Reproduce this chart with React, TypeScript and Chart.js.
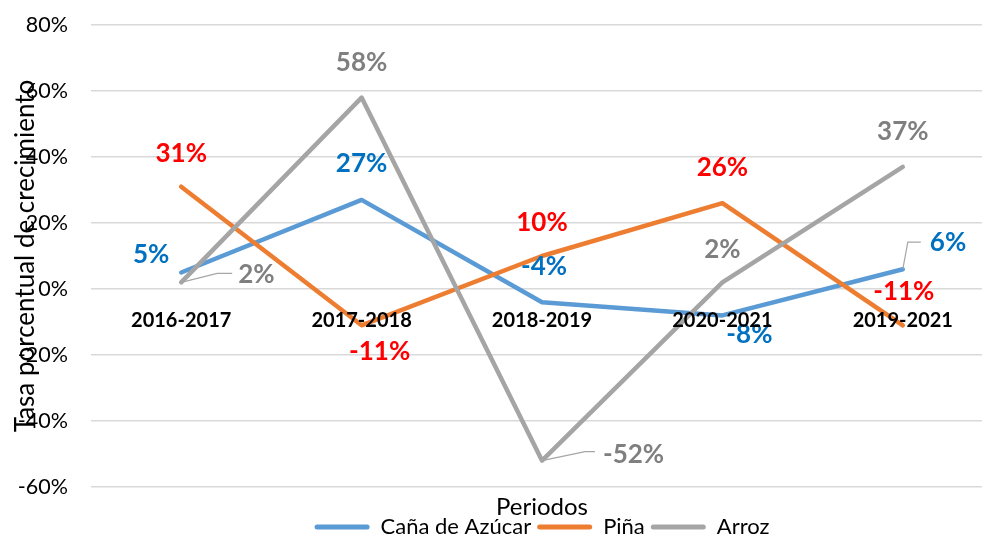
import React, { useEffect, useRef } from "react";
import { Chart, registerables } from "chart.js";

Chart.register(...registerables);

const categories = ["2016-2017", "2017-2018", "2018-2019", "2020-2021", "2019-2021"];
const canaValues = [5, 27, -4, -8, 6];
const pinaValues = [31, -11, 10, 26, -11];
const arrozValues = [2, 58, -52, 2, 37];
const yTicks = [-60, -40, -20, 0, 20, 40, 60, 80];

const FONT = "Lato, 'Noto Sans', sans-serif";

type LabelPos = { dx: number; dy: number; align?: CanvasTextAlign; leader?: [number, number, number, number] };

const labelStyles: Record<string, { color: string; pos: LabelPos[] }> = {
  "Caña de Azúcar": {
    color: "#0070C0",
    pos: [
      { dx: -30, dy: -18 },
      { dx: 0, dy: -36 },
      { dx: 2, dy: -36 },
      { dx: 27, dy: 19 },
      { dx: 27, dy: -27, align: "left", leader: [5, -27, 18, -27] },
    ],
  },
  "Piña": {
    color: "#FF0000",
    pos: [
      { dx: 0, dy: -33 },
      { dx: 18, dy: 26 },
      { dx: 0, dy: -33 },
      { dx: 0, dy: -36 },
      { dx: 1, dy: -34 },
    ],
  },
  Arroz: {
    color: "#7F7F7F",
    pos: [
      { dx: 57, dy: -8, align: "left", leader: [36, -9, 51, -9] },
      { dx: 0, dy: -35 },
      { dx: 61, dy: -6, align: "left", leader: [43, -9, 53, -9] },
      { dx: 0, dy: -33 },
      { dx: 0, dy: -35 },
    ],
  },
};

const labelsPlugin = {
  id: "customLabels",
  afterDatasetsDraw(chart: any) {
    const { ctx } = chart;
    const xs = chart.scales.x;
    const ys = chart.scales.y;
    ctx.save();
    chart.data.datasets.forEach((ds: any, i: number) => {
      const st = labelStyles[ds.label];
      if (!st) return;
      const meta = chart.getDatasetMeta(i);
      meta.data.forEach((pt: any, j: number) => {
        const p = st.pos[j];
        const v = ds.data[j];
        if (p.leader) {
          ctx.beginPath();
          ctx.strokeStyle = "#A6A6A6";
          ctx.lineWidth = 1.2;
          ctx.moveTo(pt.x, pt.y);
          ctx.lineTo(pt.x + p.leader[0], pt.y + p.leader[1]);
          ctx.lineTo(pt.x + p.leader[2], pt.y + p.leader[3]);
          ctx.stroke();
        }
        ctx.font = `bold 26px ${FONT}`;
        ctx.fillStyle = st.color;
        ctx.textAlign = p.align || "center";
        ctx.textBaseline = "middle";
        ctx.fillText(`${v}%`, pt.x + p.dx, pt.y + p.dy);
      });
    });
    const y0 = ys.getPixelForValue(0);
    ctx.font = `bold 20px ${FONT}`;
    ctx.fillStyle = "#000";
    ctx.textAlign = "center";
    ctx.textBaseline = "middle";
    categories.forEach((c, i) => {
      ctx.fillText(c, xs.getPixelForValue(i), y0 + 32);
    });
    ctx.restore();
  },
};

export default function App() {
  const ref = useRef<HTMLCanvasElement>(null);
  useEffect(() => {
    const canvas = ref.current!;
    const chart = new Chart(canvas, {
      type: "line",
      data: {
        labels: categories,
        datasets: [
          { label: "Arroz", data: arrozValues, borderColor: "#A5A5A5", backgroundColor: "#A5A5A5" },
          { label: "Piña", data: pinaValues, borderColor: "#ED7D31", backgroundColor: "#ED7D31" },
          { label: "Caña de Azúcar", data: canaValues, borderColor: "#5B9BD5", backgroundColor: "#5B9BD5" },
        ].map((d) => ({
          ...d,
          borderWidth: 4.5,
          pointRadius: 0,
          pointHoverRadius: 0,
          tension: 0,
          fill: false,
          borderJoinStyle: "round" as const,
          borderCapStyle: "round" as const,
        })),
      },
      options: {
        responsive: false,
        animation: false,
        devicePixelRatio: 1,
        layout: { padding: { top: 25, left: 0, right: 0, bottom: 0 } },
        scales: {
          x: {
            offset: true,
            grid: { display: false, offset: true },
            border: { display: false },
            ticks: { display: false },
            title: {
              display: true,
              text: "Periodos",
              color: "#000",
              font: { family: FONT, size: 24 },
              padding: { top: 0, bottom: -11.4 },
            },
            afterFit: (s: any) => {
              s.height = 23;
            },
          },
          y: {
            min: -60,
            max: 80,
            afterBuildTicks: (s: any) => {
              s.ticks = yTicks.map((v) => ({ value: v }));
            },
            ticks: {
              callback: (v: any) => `${v}%`,
              color: "#000",
              padding: 2,
              font: { family: FONT, size: 21.5 },
            },
            grid: {
              color: "#D9D9D9",
              lineWidth: 1.5,
              drawTicks: true,
              tickLength: 21,
              tickColor: "rgba(0,0,0,0)",
            },
            border: { display: false },
            title: {
              display: true,
              text: "Tasa porcentual de crecimiento",
              color: "#000",
              font: { family: FONT, size: 26 },
              padding: { top: 10, bottom: 0 },
            },
            afterFit: (s: any) => {
              s.width = 91;
            },
          },
        },
        plugins: {
          tooltip: { enabled: false },
          legend: {
            position: "bottom",
            fullSize: false,
            reverse: true,
            labels: {
              boxWidth: 55,
              boxHeight: 5,
              padding: 6,
              color: "#000",
              useBorderRadius: true,
              borderRadius: 2.5,
              font: { family: FONT, size: 22 },
              generateLabels: (c: any) =>
                (Chart.defaults.plugins.legend.labels as any)
                  .generateLabels(c)
                  .map((l: any) => ({ ...l, lineWidth: 0 })),
            },
          },
        },
      } as any,
      plugins: [labelsPlugin],
    });
    return () => chart.destroy();
  }, []);
  return (
    <div
      style={{
        position: "fixed",
        left: 0,
        top: 0,
        width: 982,
        height: 537,
        overflow: "hidden",
        background: "#fff",
      }}
    >
      <canvas ref={ref} width={993} height={548} style={{ display: "block", width: 993, height: 548 }} />
    </div>
  );
}
